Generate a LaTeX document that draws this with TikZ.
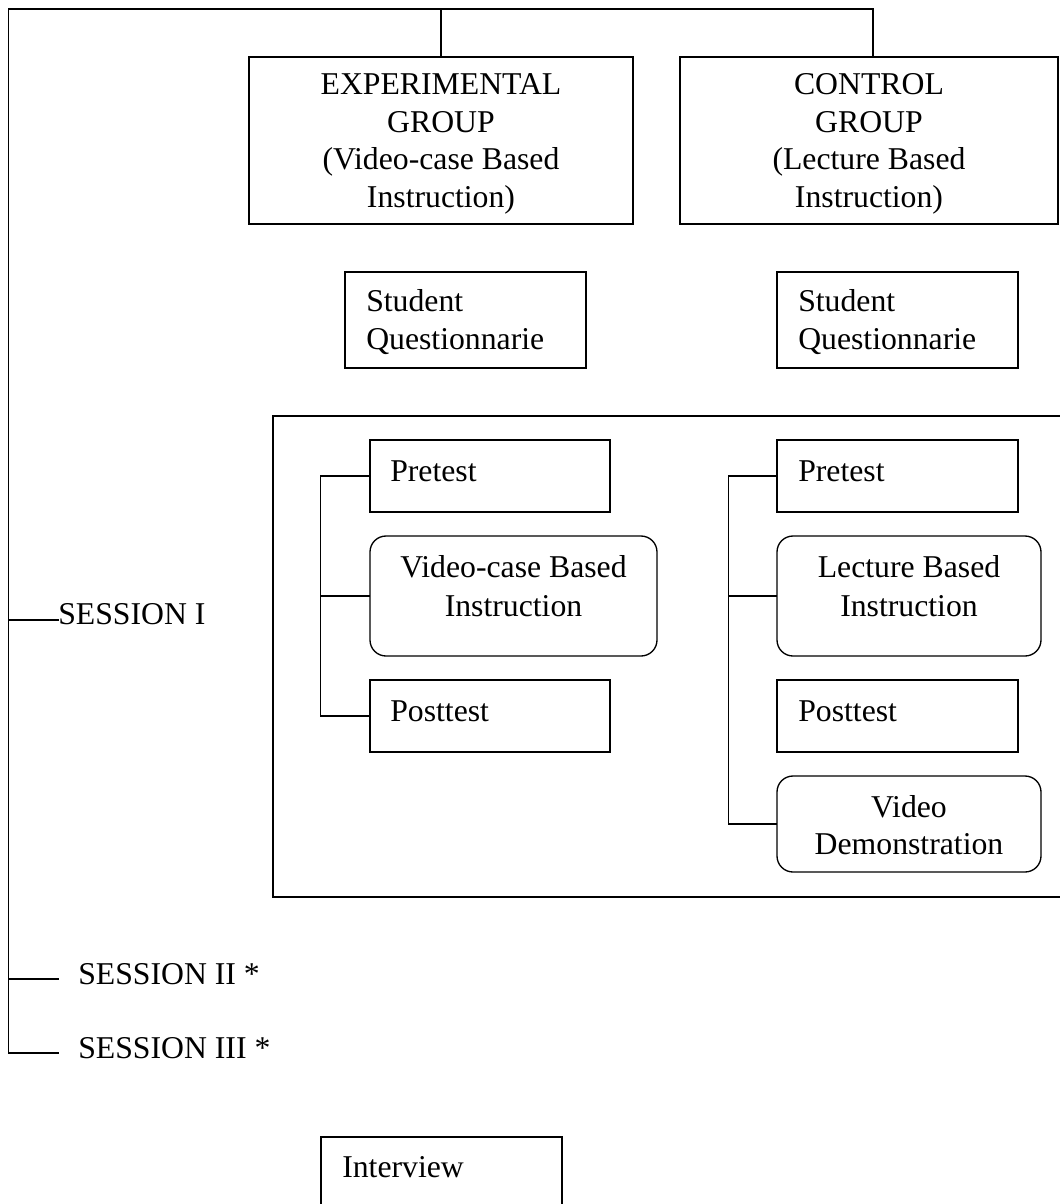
\documentclass[tikz,border=0pt]{standalone}
\usepackage{fontspec}
\setmainfont{Liberation Serif}
\usetikzlibrary{fit}
\begin{document}
\begin{tikzpicture}[x=0.75pt,y=-0.75pt,
  box/.style={draw, inner sep=0pt, line width=1pt},
  rbox/.style={box, rounded corners=12pt},
  txt/.style={inner sep=0pt, font=\fontsize{23.8pt}{27.75pt}\selectfont},
  conn/.style={line width=1pt, line cap=rect}]
\useasboundingbox (0,0) rectangle (1060,1204);

% boxes
\node[box, fit={(249,57) (633,224)}] (exp) {};
\node[box, fit={(680,57) (1058,224)}] (ctl) {};
\node[box, fit={(345,272) (586,368)}] (sqL) {};
\node[box, fit={(777,272) (1018,368)}] (sqR) {};
\node[box, fit={(273,416) (1070,897)}] (sess) {};
\node[box, fit={(370,440) (610,512)}] (preL) {};
\node[rbox, fit={(370,536) (657,656)}] (vcL) {};
\node[box, fit={(370,680) (610,752)}] (postL) {};
\node[box, fit={(777,440) (1018,512)}] (preR) {};
\node[rbox, fit={(777,536) (1041,656)}] (lbR) {};
\node[box, fit={(777,680) (1018,752)}] (postR) {};
\node[rbox, fit={(777,776) (1041,872)}] (vdR) {};
\node[box, fit={(321,1137) (562,1220)}] (intv) {};

% texts
\node[txt, anchor=base] (e1) at (441,94.5) {EXPERIMENTAL};
\node[txt, anchor=base] (e2) at (441,132) {GROUP};
\node[txt, anchor=base] (e3) at (441,169.5) {(Video-case Based};
\node[txt, anchor=base] (e4) at (441,207) {Instruction)};
\node[txt, anchor=base] (c1) at (869,94.5) {CONTROL};
\node[txt, anchor=base] (c2) at (869,132) {GROUP};
\node[txt, anchor=base] (c3) at (869,169.5) {(Lecture Based};
\node[txt, anchor=base] (c4) at (869,207) {Instruction)};
\node[txt, anchor=base west] (sqL1) at (366,311) {Student};
\node[txt, anchor=base west] (sqL2) at (366,349) {Questionnarie};
\node[txt, anchor=base west] (sqR1) at (798,311) {Student};
\node[txt, anchor=base west] (sqR2) at (798,349) {Questionnarie};
\node[txt, anchor=base west] (preLt) at (390,481) {Pretest};
\node[txt, anchor=base west] (preRt) at (798,481) {Pretest};
\node[txt, anchor=base] (vcL1) at (513.5,577) {Video-case Based};
\node[txt, anchor=base] (vcL2) at (513.5,616) {Instruction};
\node[txt, anchor=base] (lbR1) at (909,577) {Lecture Based};
\node[txt, anchor=base] (lbR2) at (909,616) {Instruction};
\node[txt, anchor=base west] (postLt) at (390,721) {Posttest};
\node[txt, anchor=base west] (postRt) at (798,721) {Posttest};
\node[txt, anchor=base] (vdR1) at (909,817) {Video};
\node[txt, anchor=base] (vdR2) at (909,854) {Demonstration};
\node[txt, anchor=base west] (s1) at (58,624) {SESSION I};
\node[txt, anchor=base west] (s2) at (78,984) {SESSION II *};
\node[txt, anchor=base west] (s3) at (78,1058) {SESSION III *};
\node[txt, anchor=base west] (intvt) at (342,1177) {Interview};

% main tree
\coordinate (tl) at (8.5,9);
\coordinate (tr) at (873,9);
\coordinate (b1) at (8.5,620);
\coordinate (e1end) at (58,620);
\coordinate (b2) at (8.5,979);
\coordinate (e2end) at (58,979);
\coordinate (b3) at (8.5,1053);
\coordinate (e3end) at (58,1053);
\draw[conn] (exp.north) -- (exp.north |- tl);
\draw[conn] (tr |- ctl.north) -- (tr) -- (tl) -- (b3) -- (e3end);
\draw[conn] (b1) -- (e1end);
\draw[conn] (b2) -- (e2end);

% brackets
\draw[conn] (preL.west) -- ++(-49,0) |- (postL.west);
\draw[conn] (vcL.west) -- ++(-49,0);
\draw[conn] (preR.west) -- ++(-48,0) |- (vdR.west);
\draw[conn] (lbR.west) -- ++(-48,0);
\end{tikzpicture}
\end{document}
